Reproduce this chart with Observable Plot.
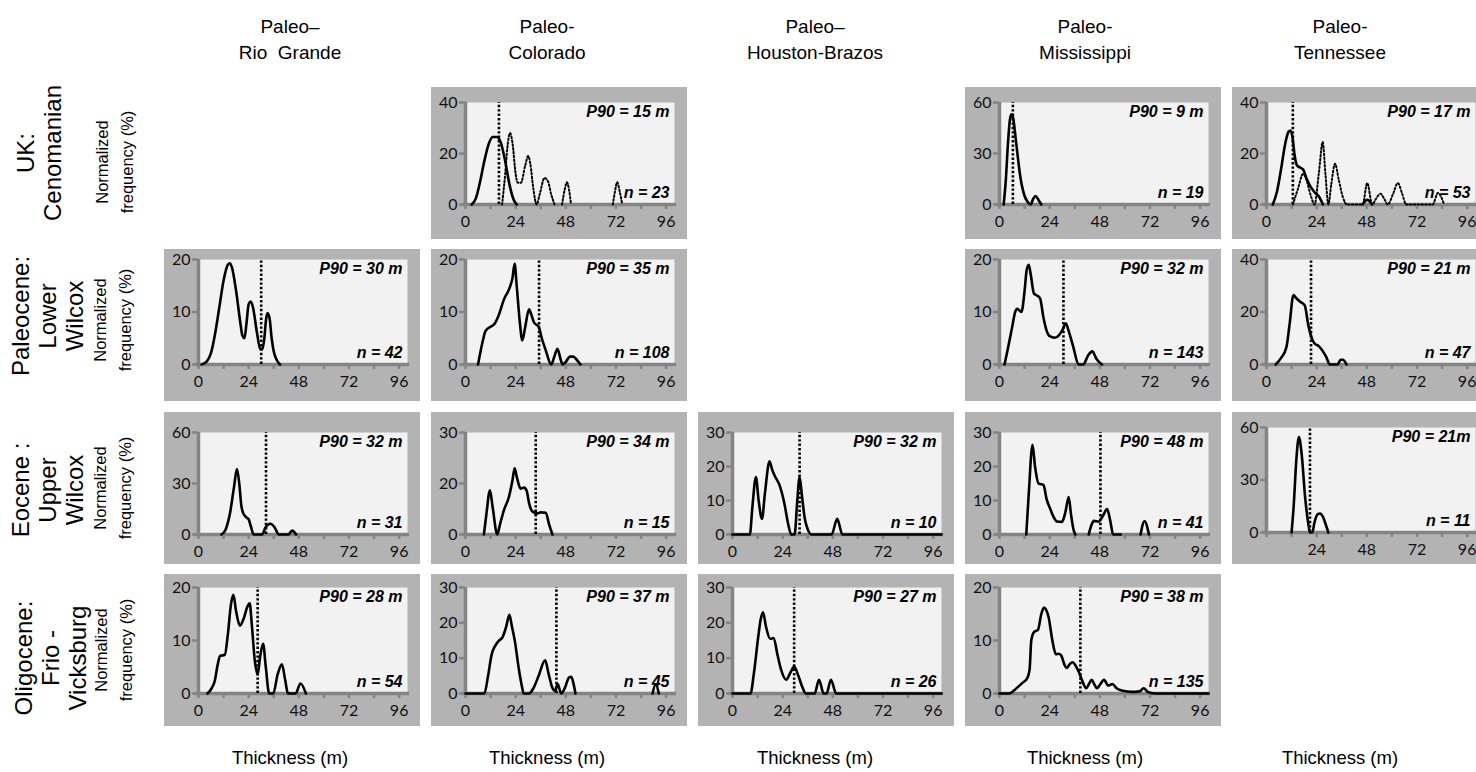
<!DOCTYPE html>
<html><head><meta charset="utf-8">
<script src="https://cdn.jsdelivr.net/npm/d3@7"></script>
<script src="https://cdn.jsdelivr.net/npm/@observablehq/plot@0.6"></script>
<style>
body{margin:0;background:#fff;}
#root{position:relative;width:1476px;height:772px;overflow:hidden;font-family:"Liberation Sans",Arial,sans-serif;color:#000;background:#fff;}
.lbl{position:absolute;white-space:pre;text-align:center;transform:translate(-50%,-50%);}
.rot{transform:translate(-50%,-50%) rotate(-90deg);}
.panel{position:absolute;width:256px;height:152px;}
.panel svg{max-width:none !important;display:block;}
</style></head>
<body><div id="root"></div>
<script>
// ---------- text ----------
const columnTitles = ["Paleo–\nRio  Grande", "Paleo-\nColorado", "Paleo–\nHouston-Brazos", "Paleo-\nMississippi", "Paleo-\nTennessee"];
const rowTitles = ["UK:\nCenomanian", "Paleocene:\nLower\nWilcox", "Eocene :\nUpper\nWilcox", "Oligocene:\nFrio -\nVicksburg"];
const yTitle = "Normalized\nfrequency (%)";
const xTitle = "Thickness (m)";
const xTicks = [0, 12, 24, 36, 48, 60, 72, 84, 96];
const xLabelled = [0, 24, 48, 72, 96];

// ---------- curves [thickness m, normalized frequency %] ----------
const ukColorado = [[3,0],[5,2.5],[7,9],[9,17],[11,23.5],[13,26.5],[15,26.5],[17,24],[19,17],[21,8],[23,2],[24.5,0]];
const ukColoradoRef = [[17.5,0],[19,12],[20,22],[21.3,28],[22.5,24],[24,12],[25,8.5],[26.5,8.5],[28.5,15],[30,19],[31,16],[32.5,6],[34,0],[35.5,4],[37.8,10.4],[39.5,9],[41,4],[42.6,0],[44.5,null],[46.2,0],[47.5,6],[48.5,8.7],[49.5,6],[50.5,0],[60,null],[70.5,0],[71.5,5],[72.6,8.7],[73.8,5],[75,0]];
const ukMississippi = [[2,0],[3,14],[4,35],[5,50],[5.7,53],[6.5,51],[8,36],[10,16],[12,5],[13.5,1.5],[15,0],[16,3],[17.3,5],[18.5,3],[20,0]];
const ukTennessee = [[3,0],[5,5],[7,14],[9,24],[10.5,28.5],[11.5,29],[12.5,26],[13.5,19],[14.5,15.5],[16,14.5],[17.5,13.8],[19,10.5],[20.7,7.5],[23,4.8],[25,3.2],[27,0],[37,null],[46,0],[48.2,1.8],[50.5,0]];
const ukTennesseeRef = [[12.6,0],[15,6],[17.5,12],[19,10],[21,4],[23,0],[25,12],[26.9,24.5],[28.2,12],[29.6,0],[31,8],[32.8,16],[34.5,10],[36.5,3],[38.5,0],[46,0],[48.2,8.4],[50.6,0],[52.2,2],[54.5,4.2],[56.5,2],[58,0],[60.5,4],[62.8,8.4],[65,4],[66.8,0],[79.5,0],[82,4.5],[85,0]];
const paleoRioGrande = [[1.5,0],[4,0.6],[6,2.2],[8,6],[10,11],[12,16],[14,19],[15,19.3],[16,18.5],[18,14],[20,8],[21,5.5],[22,5],[23,8],[24,11.5],[25,12],[26,11],[28,6],[29.5,3],[30.5,2.9],[31.5,5],[32.3,8.5],[33,9.8],[34,8.8],[35,5],[36,2.5],[37.5,0.8],[39,0]];
const paleoColorado = [[6,0],[8,4],[9.6,6.4],[12,7.2],[14,7.8],[16,9.5],[18.4,12.4],[21,14.5],[22.5,16.5],[23.5,19.2],[24.5,15],[26,8],[27.2,4.6],[28.5,7],[30.4,10.5],[31.5,9.5],[32.8,8],[35,7.2],[36.5,5],[38.4,2.7],[41,0],[42.5,1.5],[44,3],[45.5,1],[46.5,0],[48,0.5],[50,1.5],[51.5,1.5],[53,1],[55,0]];
const paleoMississippi = [[2.4,0],[4,3],[6,7],[7.5,10],[8.5,10.6],[10.5,10],[12,14],[13,18],[14,19],[15,17],[16.5,13.5],[18.5,13],[19.5,12.5],[21,9],[22.5,6.5],[24,5.4],[26.5,5.1],[28.5,5.6],[30,6.5],[31.8,7.8],[33,6.5],[35,3.8],[38,0],[40,0],[42.5,1.8],[44.4,2.5],[46.5,1],[49,0]];
const paleoTennessee = [[4.4,0],[7,2.5],[9.5,6.5],[11,15],[12.9,26.5],[14,25.5],[16,24],[18.3,22.5],[20,15],[21.9,9.5],[23,8],[25,7],[27,5],[28.5,3],[30.3,0],[34,0],[35.5,1.8],[36.5,1.8],[38.3,0]];
const eoRioGrande = [[11,0],[13,3],[15,12],[17,28],[18.4,38.5],[19.5,30],[20.5,17],[21.6,12],[23,10],[24,9],[25,5],[26.4,0],[30.4,0],[32,4],[34.4,6.3],[36.5,4],[38.4,0],[43,0],[44.8,2.3],[46.7,0]];
const eoColorado = [[8.8,0],[10,6],[11.7,13],[13,8],[15.2,0],[16.5,3],[18.4,7.2],[20.8,11.1],[22.5,16],[23.5,19.5],[24.5,17],[26.4,13.5],[28,13.8],[29.3,12.8],[30.5,9],[32,6.8],[34.4,6.2],[36,6.5],[38.4,6.4],[40,3],[41.6,0]];
const eoHoustonBrazos = [[0,0],[8.3,0],[9.5,8],[11.2,16.9],[12.5,10],[14.1,4.6],[15.5,12],[17.7,21.5],[19,19],[20,17.5],[22.5,14.5],[24.9,8.9],[26.5,3.5],[28.1,0],[29.7,0],[31,10],[32.1,16.9],[33.3,11],[34.5,5],[36,1.5],[37.7,0],[47.4,0],[50.1,4.6],[52.6,0],[100,0]];
const eoMississippi = [[12.8,0],[14,12],[15.8,26.4],[17,20],[18.7,15],[20,14.8],[21.1,14.5],[22.5,10.5],[24.3,7.5],[26,5],[27.5,3.8],[29.9,3.7],[31.5,6.5],[33.1,11],[34.2,6],[35.5,1.2],[36.3,0],[39,null],[42.7,0],[44,2.8],[45.1,4],[47.5,3.8],[49.5,5.5],[51.5,7.5],[53,4],[54.4,0],[58,0],[62,null],[67.5,0],[69.4,3.9],[71.5,0]];
const eoTennessee = [[12,0],[13,15],[14.3,42],[15.5,54.5],[16.8,45],[18.5,20],[20,5],[20.8,0],[21.9,0],[23,6],[24.5,10.5],[25.6,10.9],[27,9],[28.5,4],[29.6,0]];
const oliRioGrande = [[4.3,0],[6,0.8],[7.8,2.4],[9.2,5.5],[10.3,7.1],[12.6,7.3],[14,11],[15.6,17],[16.7,18.6],[18,15.5],[19.8,12.8],[21.5,14],[23.5,16.5],[24.5,17],[25.5,13],[27,6],[28.3,3.6],[29.5,7],[30.9,9.4],[32.2,5],[33.8,0],[35.8,0],[37.8,3.5],[39.9,5.5],[41.5,2.5],[42.8,0],[46.5,0],[48.8,1.9],[51.4,0]];
const oliColorado = [[0,0],[9,0],[10.8,5],[12.5,11],[14.2,13.5],[15.9,14.9],[17.6,15.8],[19.5,19],[21,22.3],[22.2,19],[23.6,14.9],[25.5,7],[27,2],[27.8,0],[30.4,0],[32.5,1.5],[35,5],[38.1,9.4],[39.8,5.5],[41.5,1.7],[42.8,0.8],[44.1,2.7],[45,1.2],[45.8,0],[47.5,1.5],[49.5,4.5],[50.6,4.7],[51.6,3],[52.6,0],[70,null],[89.5,0],[91,2.6],[92.5,0]];
const oliHoustonBrazos = [[0,0],[8.6,0],[10.3,6],[12.3,16],[13.5,21],[14.6,23],[16,19],[18,15.5],[19.7,15.7],[21.5,11],[23.2,6.8],[25.7,3.9],[27.8,6],[29.5,7.6],[31.5,5],[33.3,2],[35.1,0],[39.3,0],[41.4,3.9],[43.6,0],[45,0],[47.1,3.9],[49.6,0],[100,0]];
const oliMississippi = [[0,0],[4.7,0],[7,0.6],[9,1.3],[11,2],[13.3,2.9],[14.4,4.5],[15.2,10],[16.5,11.6],[18.4,12],[20,15],[21.3,16.2],[22.3,15.8],[23.5,14.4],[25.3,10],[27,7.4],[28.3,7.5],[29.5,7.2],[31,5.5],[32.1,4.8],[33.5,5.5],[35,5.9],[36.5,5.2],[37.8,4.2],[39.5,2.5],[41.5,1],[42.8,1.8],[44.1,2.6],[45.3,1.8],[46.6,1],[48.3,1.8],[50,2.6],[52,1.5],[54,1.8],[56,1],[59,0.5],[63,0.3],[67,0.4],[69,1],[71,0.3],[75,0],[100,0]];

// ---------- panels ----------
const panelRow = [0,0,0, 1,1,1,1, 2,2,2,2,2, 3,3,3,3];
const panelCol = [1,3,4, 0,1,3,4, 0,1,2,3,4, 0,1,2,3];
const panelYMax = [40,60,40, 20,20,20,40, 60,30,30,30,60, 20,30,30,20];
const panelYLabels = [
  ["0","20","40"],["0","30","60"],["0","20","40"],
  ["0","10","20"],["0","10","20"],["0","10","20"],["0","20","40"],
  ["0","30","60"],["0","20","30"],["0","10","20","30"],["0","10","20","30"],["0","30","60"],
  ["0","10","20"],["0","10","20","30"],["0","10","20","30"],["0","10","20"]];
const p90Text = ["P90 = 15 m","P90 = 9 m","P90 = 17 m","P90 = 30 m","P90 = 35 m","P90 = 32 m","P90 = 21 m","P90 = 32 m","P90 = 34 m","P90 = 32 m","P90 = 48 m","P90 = 21m","P90 = 28 m","P90 = 37 m","P90 = 27 m","P90 = 38 m"];
const nText = ["n = 23","n = 19","n = 53","n = 42","n = 108","n = 143","n = 47","n = 31","n = 15","n = 10","n = 41","n = 11","n = 54","n = 45","n = 26","n = 135"];
const p90Line = [16, 6.4, 12.6, 30, 35.2, 30.6, 21.3, 32.3, 33.6, 32.1, 48.3, 20.8, 28.3, 43.5, 29.5, 38.7];
const solidCurves = [ukColorado, ukMississippi, ukTennessee, paleoRioGrande, paleoColorado, paleoMississippi, paleoTennessee, eoRioGrande, eoColorado, eoHoustonBrazos, eoMississippi, eoTennessee, oliRioGrande, oliColorado, oliHoustonBrazos, oliMississippi];
const dottedCurves = [ukColoradoRef, null, ukTennesseeRef, null, null, null, null, null, null, null, null, null, null, null, null, null];
const showZeroXLabel = [true,true,true, true,true,true,true, true,true,true,true,false, true,true,true,true];

// ---------- layout ----------
const root = document.getElementById("root");
const colLeft = c => 164 + 267 * c;
const rowTop = [87, 249, 412, 574];
const rowMarginTop = [15, 10, 20, 13];
const rowMarginBottom = [35, 37, 30, 33];
const headerX = [290, 547, 815, 1085, 1340];
const rowTitleX = [39, 47, 47, 50];
const rowTitleY = [153, 316, 490, 658];
const yTitleX = [115, 113, 113, 114];
const yTitleY = [162, 320, 488, 650];

function addLabel(text, x, y, css, rotate) {
  const d = document.createElement("div");
  d.className = "lbl" + (rotate ? " rot" : "");
  d.textContent = text;
  d.style.left = x + "px";
  d.style.top = y + "px";
  Object.assign(d.style, css);
  root.appendChild(d);
}

columnTitles.forEach((t, i) => addLabel(t, headerX[i], 40, {fontSize: "19px", lineHeight: "26px"}));
headerX.forEach(x => addLabel(xTitle, x, 758, {fontSize: "18.5px"}));
rowTitles.forEach((t, i) => {
  addLabel(t, rowTitleX[i], rowTitleY[i], {fontSize: "24px", lineHeight: "27px"}, true);
  addLabel(yTitle, yTitleX[i], yTitleY[i], {fontSize: "16.5px", lineHeight: "25px"}, true);
});

const AXIS = "#848484";
panelRow.forEach((r, i) => {
  const c = panelCol[i];
  const ymax = panelYMax[i];
  const labels = panelYLabels[i];
  const yVals = labels.map((_, k) => k * ymax / (labels.length - 1));
  const marks = [
    Plot.frame({fill: "#f2f2f2", stroke: "none"}),
    Plot.ruleX([0], {y1: 0, y2: ymax, stroke: AXIS, strokeWidth: 3.5}),
    Plot.ruleY([0], {x1: -1.5, x2: 101, stroke: AXIS, strokeWidth: 3.5}),
    Plot.axisX({ticks: xTicks, label: null, tickSize: 5, tickPadding: 6, stroke: AXIS, strokeWidth: 2.5, fill: "#111",
      tickFormat: d => (xLabelled.includes(d) && (d !== 0 || showZeroXLabel[i])) ? String(d) : ""}),
    Plot.axisY({ticks: yVals, label: null, tickSize: 6, tickPadding: 2, stroke: AXIS, strokeWidth: 2.5, fill: "#111",
      tickFormat: d => labels[yVals.indexOf(d)]})
  ];
  if (dottedCurves[i]) marks.push(Plot.line(dottedCurves[i], {x: d => d[0], y: d => d[1], curve: "monotone-x", stroke: "#000", strokeWidth: 2, strokeDasharray: "1.6,2.2"}));
  marks.push(Plot.line(solidCurves[i], {x: d => d[0], y: d => d[1], curve: "monotone-x", stroke: "#000", strokeWidth: 2.6}));
  marks.push(Plot.ruleX([p90Line[i]], {y1: 0, y2: ymax, stroke: "#000", strokeWidth: 2.6, strokeDasharray: "2.4,2"}));
  const txt = {textAnchor: "end", fontWeight: "bold", fontStyle: "italic", fontSize: 16, fontFamily: "'Liberation Sans', Arial, sans-serif", fill: "#000"};
  marks.push(Plot.text([p90Text[i]], {...txt, frameAnchor: "top-right", dx: -5, dy: 3, lineAnchor: "top"}));
  marks.push(Plot.text([nText[i]], {...txt, frameAnchor: "bottom-right", dx: -5, dy: -7, lineAnchor: "bottom"}));
  const isTennEo = (r === 2 && c === 4);
  const fig = Plot.plot({
    width: 256, height: 152,
    marginLeft: 34, marginRight: 13,
    marginTop: isTennEo ? 15 : rowMarginTop[r],
    marginBottom: isTennEo ? 32 : rowMarginBottom[r],
    x: {domain: [0, 100]},
    y: {domain: [0, ymax]},
    style: {background: "#b3b3b3", fontFamily: "Lato, 'Open Sans', sans-serif", fontSize: "16px", color: "#111", overflow: "visible", maxWidth: "none"},
    marks
  });
  const holder = document.createElement("div");
  holder.className = "panel";
  holder.style.left = colLeft(c) + "px";
  holder.style.top = rowTop[r] + "px";
  holder.appendChild(fig);
  root.appendChild(holder);
});
</script>
</body></html>
